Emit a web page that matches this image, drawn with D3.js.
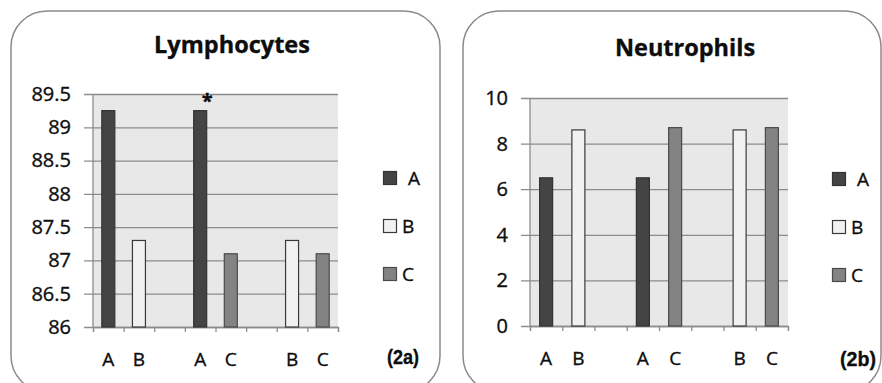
<!DOCTYPE html>
<html>
<head>
<meta charset="utf-8">
<script src="https://cdn.jsdelivr.net/npm/d3@7"></script>
<style>
  body { margin: 0; background: #fff; }
  svg { display: block; font-family: "Open Sans", sans-serif; }
</style>
</head>
<body>
<svg id="chart" width="882" height="383"></svg>
<script>
// category slots along the x axis (empty string = gap)
var slotLabels = ["A", "B", "", "A", "C", "", "B", "C"];
var slotSeries = ["A", "B", null, "A", "C", null, "B", "C"];

var lymphoValues = [89.25, 87.3, null, 89.25, 87.1, null, 87.3, 87.1];
var lymphoTicks = [86, 86.5, 87, 87.5, 88, 88.5, 89, 89.5];

var neutroValues = [6.5, 8.6, null, 6.5, 8.7, null, 8.6, 8.7];
var neutroTicks = [0, 2, 4, 6, 8, 10];

var seriesNames = ["A", "B", "C"];
var seriesFill = { A: "#444444", B: "#f1f1f1", C: "#838383" };
var seriesStroke = { A: "#333333", B: "#3a3a3a", C: "#4a4a4a" };

var ink = "#0d0d0d";
var svg = d3.select("#chart");

// slightly heavier text to match the scanned look
function inkText(sel) {
	return sel.attr("fill", ink).attr("stroke", ink).attr("stroke-width", 0.35);
}

// draws one panel
function drawPanel(opt) {
	var g = svg.append("g");

	g.append("rect")
		.attr("x", opt.box[0]).attr("y", opt.box[1])
		.attr("width", opt.box[2]).attr("height", opt.box[3])
		.attr("rx", 36).attr("ry", 36)
		.attr("fill", "#fff")
		.attr("stroke", "#8a8a8a")
		.attr("stroke-width", 1.5);

	var p = opt.plot;
	var y = d3.scaleLinear().domain(opt.domain).range([p.bottom, p.top]);
	var xb = d3.scaleBand().domain(d3.range(slotLabels.length)).range([p.left, p.right]);
	var xt = d3.scaleLinear().domain([0, slotLabels.length]).range([p.left, p.right]);

	// plot background
	g.append("rect")
		.attr("x", p.left).attr("y", p.top)
		.attr("width", p.right - p.left).attr("height", p.bottom - p.top)
		.attr("fill", "#e8e8e8");

	// y axis with gridlines
	var ya = g.append("g")
		.attr("transform", "translate(" + (p.left - 9) + ",0)")
		.call(d3.axisLeft(y).tickValues(opt.ticks)
			.tickSizeInner(-(p.right - p.left + 9)).tickSizeOuter(0)
			.tickPadding(13).tickFormat(d3.format("")));
	ya.select(".domain").remove();
	ya.selectAll("line").attr("stroke", "#8c8c8c").attr("stroke-width", 1.3);
	ya.selectAll("text").attr("font-size", 20)
		.attr("font-family", "'Open Sans', sans-serif")
		.call(inkText);

	// bottom ticks on slot boundaries
	var xa = g.append("g")
		.attr("transform", "translate(0," + p.bottom + ")")
		.call(d3.axisBottom(xt).tickValues(d3.range(slotLabels.length + 1))
			.tickSize(5).tickFormat(""));
	xa.select(".domain").attr("stroke", "#8c8c8c").attr("stroke-width", 1.3);
	xa.selectAll("line").attr("stroke", "#8c8c8c").attr("stroke-width", 1.3);

	// vertical axis line
	g.append("line")
		.attr("x1", p.left).attr("x2", p.left)
		.attr("y1", p.top).attr("y2", p.bottom)
		.attr("stroke", "#8c8c8c").attr("stroke-width", 1.3);

	// bars
	var bw = 13;
	var bars = opt.values.map(function (v, i) {
		return { i: i, v: v, s: slotSeries[i] };
	}).filter(function (d) { return d.v != null; });

	g.selectAll(".bar").data(bars).enter().append("rect")
		.attr("class", "bar")
		.attr("x", function (d) { return xb(d.i) + xb.bandwidth() / 2 - bw / 2; })
		.attr("y", function (d) { return y(d.v); })
		.attr("width", bw)
		.attr("height", function (d) { return p.bottom - y(d.v); })
		.attr("fill", function (d) { return seriesFill[d.s]; })
		.attr("stroke", function (d) { return seriesStroke[d.s]; })
		.attr("stroke-width", 1.2);

	// x labels
	g.selectAll(".xl").data(slotLabels).enter().append("text")
		.attr("class", "xl")
		.attr("x", function (d, i) { return xb(i) + xb.bandwidth() / 2; })
		.attr("y", opt.xLabelY)
		.attr("text-anchor", "middle")
		.attr("font-size", 19)
		.call(inkText)
		.text(function (d) { return d; });

	// asterisk marks
	(opt.marks || []).forEach(function (m) {
		g.append("text")
			.attr("x", xb(m.slot) + xb.bandwidth() / 2 + 7)
			.attr("y", y(opt.values[m.slot]) - 3)
			.attr("text-anchor", "middle")
			.attr("font-size", 20)
			.attr("font-weight", "bold")
			.call(inkText)
			.text(m.text);
	});

	// title
	g.append("text")
		.attr("x", opt.title[1]).attr("y", opt.title[2])
		.attr("text-anchor", "middle")
		.attr("font-size", 23.5).attr("font-weight", "bold")
		.call(inkText)
		.text(opt.title[0]);

	// legend
	var lg = g.selectAll(".lg").data(seriesNames).enter().append("g")
		.attr("class", "lg")
		.attr("transform", function (d, i) {
			return "translate(" + opt.legend[0] + "," + (opt.legend[1] + i * 48) + ")";
		});
	lg.append("rect")
		.attr("x", 0.5).attr("y", 0.5)
		.attr("width", 13).attr("height", 13)
		.attr("fill", function (d) { return seriesFill[d]; })
		.attr("stroke", function (d) { return seriesStroke[d]; })
		.attr("stroke-width", 1.2);
	lg.append("text")
		.attr("x", function (d) { return d == "A" ? 25 : 19; })
		.attr("y", 14)
		.attr("font-size", 19)
		.call(inkText)
		.text(function (d) { return d; });

	// panel tag (condensed bold)
	g.append("text")
		.attr("x", opt.tag[1]).attr("y", opt.tag[2])
		.attr("text-anchor", "end")
		.attr("font-family", "'Liberation Sans', Arial, sans-serif")
		.attr("font-size", 21).attr("font-weight", "bold")
		.attr("textLength", opt.tag[3]).attr("lengthAdjust", "spacingAndGlyphs")
		.call(inkText)
		.text(opt.tag[0]);
}

drawPanel({
	box: [11, 11, 429, 381],
	plot: { left: 93, right: 338, top: 94, bottom: 327 },
	domain: [86, 89.5],
	ticks: lymphoTicks,
	values: lymphoValues,
	marks: [{ slot: 3, text: "*" }],
	xLabelY: 366,
	title: ["Lymphocytes", 232, 53],
	legend: [383, 171],
	tag: ["(2a)", 419, 364, 32]
});

drawPanel({
	box: [463, 11, 418, 381],
	plot: { left: 530, right: 788, top: 98, bottom: 326 },
	domain: [0, 10],
	ticks: neutroTicks,
	values: neutroValues,
	xLabelY: 365,
	title: ["Neutrophils", 685, 56],
	legend: [832, 172],
	tag: ["(2b)", 876, 366, 36]
});
</script>
</body>
</html>
